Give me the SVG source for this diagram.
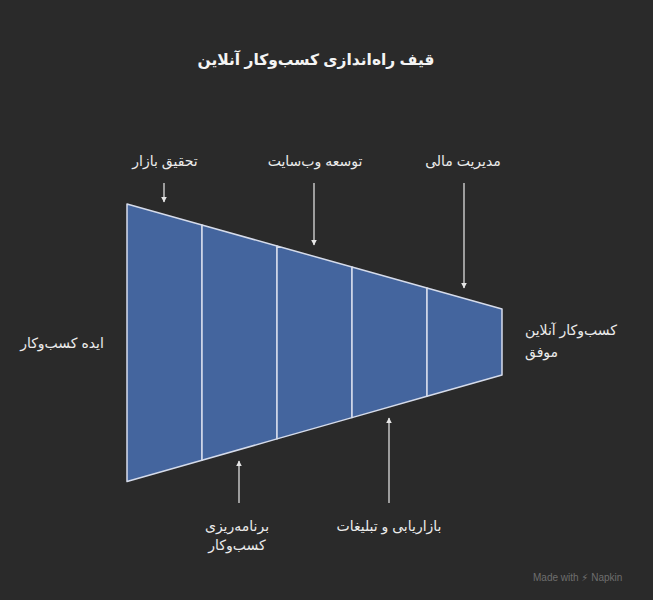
<svg xmlns="http://www.w3.org/2000/svg" width="653" height="600" viewBox="0 0 653 600">
<style>
text{font-family:"Liberation Sans","DejaVu Sans",sans-serif;fill:#ececec;font-size:14px}
.title{font-size:15.5px;font-weight:bold;fill:#f4f4f4}
.seg{fill:#44659e;stroke:#d6dceb;stroke-width:1.5;stroke-linejoin:round}
.arr{stroke:#dcdcdc;stroke-width:1.3;fill:none}
.wm{font-size:10px;fill:#6e6e6e}
</style>
<defs>
<marker id="ah" viewBox="0 0 10 10" refX="9" refY="5" markerWidth="4.5" markerHeight="4.5" orient="auto-start-reverse" markerUnits="strokeWidth">
<path d="M0,0 L10,5 L0,10 z" fill="#e6e6e6"/>
</marker>
</defs>
<rect width="653" height="600" fill="#2a2a2a"/>
<text class="title" x="316" y="65" text-anchor="middle">قیف راه‌اندازی کسب‌وکار آنلاین</text>
<g id="funnel">
<g id="s1"><polygon class="seg" points="127,204 202,225 202,460.2 127,481.5"/></g>
<g id="s2"><polygon class="seg" points="202,225 277,246 277,438.9 202,460.2"/></g>
<g id="s3"><polygon class="seg" points="277,246 352,267 352,417.6 277,438.9"/></g>
<g id="s4"><polygon class="seg" points="352,267 427,288 427,396.3 352,417.6"/></g>
<g id="s5"><polygon class="seg" points="427,288 502,309 502,375 427,396.3"/></g>
</g>
<g id="connectors">
<line class="arr" x1="164" y1="183" x2="164" y2="202" marker-end="url(#ah)"/>
<line class="arr" x1="314" y1="183" x2="314" y2="245" marker-end="url(#ah)"/>
<line class="arr" x1="464" y1="183" x2="464" y2="288" marker-end="url(#ah)"/>
<line class="arr" x1="239" y1="503" x2="239" y2="461" marker-end="url(#ah)"/>
<line class="arr" x1="389" y1="503" x2="389" y2="418" marker-end="url(#ah)"/>
</g>
<g id="l-research"><text x="165" y="166" text-anchor="middle">تحقیق بازار</text></g>
<g id="l-web"><text x="315" y="166" text-anchor="middle">توسعه وب‌سایت</text></g>
<g id="l-finance"><text x="463" y="166" text-anchor="middle">مدیریت مالی</text></g>
<g id="l-idea"><text x="62" y="348" text-anchor="middle">ایده کسب‌وکار</text></g>
<g id="l-success"><text x="525" y="335" text-anchor="start">کسب‌وکار آنلاین</text><text x="525" y="357" text-anchor="start">موفق</text></g>
<g id="l-plan"><text x="237" y="531" text-anchor="middle">برنامه‌ریزی</text><text x="237" y="550" text-anchor="middle">کسب‌وکار</text></g>
<g id="l-marketing"><text x="389" y="531" text-anchor="middle">بازاریابی و تبلیغات</text></g>
<text class="wm" x="533" y="581">Made with ⚡ Napkin</text>
</svg>
